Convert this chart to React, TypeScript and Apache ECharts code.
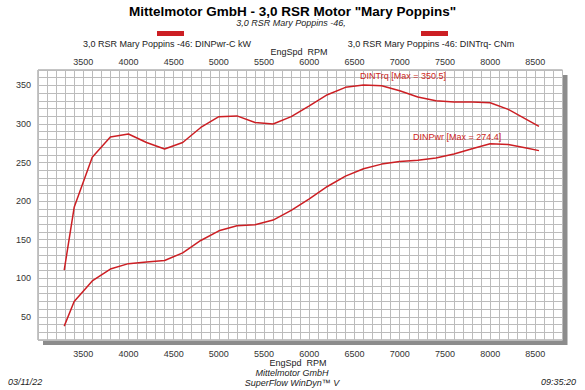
import React, { useEffect, useRef } from "react";
import * as echarts from "echarts";

const rpm = [3290, 3400, 3600, 3800, 4000, 4200, 4400, 4600, 4800, 5000, 5200, 5400, 5600, 5800, 6000, 6200, 6400, 6600, 6800, 7000, 7200, 7400, 7600, 7800, 8000, 8200, 8400, 8540];
const torque = [110.5, 192, 257, 283, 287, 276, 267.5, 276, 295.5, 309.5, 310.5, 302, 300, 309.5, 323.5, 338, 347.5, 350.5, 349.5, 343, 335, 330, 328.5, 328.5, 327.5, 319, 306, 297];
const power = [38, 70, 96.5, 112, 119, 121, 123, 133, 149, 161.5, 168, 169.5, 175.5, 188, 203, 219, 232.5, 242, 248, 251.5, 253, 256, 261, 268, 274.4, 273.5, 269, 265.5];
const xTickLabels = [3500, 4000, 4500, 5000, 5500, 6000, 6500, 7000, 7500, 8000, 8500];
const yTickLabels = [50, 100, 150, 200, 250, 300, 350];

const RED = "#cc1f24";
const FONT = "Liberation Sans, Arial, sans-serif";

export default function App() {
  const ref = useRef<HTMLDivElement>(null);
  useEffect(() => {
    if (!ref.current) return;
    const chart = echarts.init(ref.current, null, { renderer: "svg" });
    const xFmt = (v: number) => (xTickLabels.includes(v) ? String(v) : "");
    const yFmt = (v: number) => (yTickLabels.includes(v) ? String(v) : "");
    const gridLine = { show: true, lineStyle: { color: "#bcbcbc", width: 1 } };
    const txt = (x: number, y: number, text: string, font: string, fill: string, align: string) => ({
      type: "text", x, y, z: 100,
      style: { text, font: `${font} ${FONT}`, fill, align, verticalAlign: "middle" },
    });
    chart.setOption({
      animation: false,
      textStyle: { fontFamily: FONT },
      grid: {
        left: 38, top: 70, right: 22.5, bottom: 50,
        show: true, borderColor: "#8a8a8a", borderWidth: 1, backgroundColor: "#fff",
      },
      xAxis: [
        {
          type: "value", min: 3000, max: 8800, interval: 100, position: "bottom",
          axisLine: { show: false }, axisTick: { show: false },
          splitLine: gridLine,
          axisLabel: { formatter: xFmt, color: "#333", fontSize: 9, margin: 9 },
        },
        {
          type: "value", min: 3000, max: 8800, interval: 100, position: "top",
          axisLine: { show: false }, axisTick: { show: false },
          splitLine: { show: false },
          axisLabel: { formatter: xFmt, color: "#333", fontSize: 9, margin: 4 },
        },
      ],
      yAxis: {
        type: "value", min: 20, max: 370, interval: 10,
        axisLine: { show: false }, axisTick: { show: false },
        splitLine: gridLine,
        axisLabel: { formatter: yFmt, color: "#333", fontSize: 9, margin: 7 },
      },
      series: [
        {
          name: "DINTrq", type: "line", xAxisIndex: 0, symbol: "none",
          data: rpm.map((r, i) => [r, torque[i]]),
          lineStyle: { color: RED, width: 1.5 },
        },
        {
          name: "DINPwr", type: "line", xAxisIndex: 0, symbol: "none",
          data: rpm.map((r, i) => [r, power[i]]),
          lineStyle: { color: RED, width: 1.5 },
        },
      ],
      graphic: [
        { type: "rect", shape: { x: 43, y: 340, width: 524, height: 5 }, style: { fill: "#8c8c8c" } },
        { type: "rect", shape: { x: 562.5, y: 75, width: 5, height: 270 }, style: { fill: "#8c8c8c" } },
        txt(292.5, 11, 'Mittelmotor GmbH - 3,0 RSR Motor "Mary Poppins"', "bold 13.5px", "#000", "center"),
        txt(291, 22.5, "3,0 RSR Mary Poppins -46,", "italic 9px", "#222", "center"),
        { type: "rect", shape: { x: 157, y: 31, width: 27, height: 5 }, style: { fill: RED } },
        { type: "rect", shape: { x: 421, y: 31, width: 27, height: 5 }, style: { fill: RED } },
        txt(167, 44, "3,0 RSR Mary Poppins -46: DINPwr-C kW", "9px", "#222", "center"),
        txt(431, 44, "3,0 RSR Mary Poppins -46: DINTrq- CNm", "9px", "#222", "center"),
        txt(299, 51.5, "EngSpd  RPM", "9px", "#222", "center"),
        txt(298, 362.5, "EngSpd  RPM", "9px", "#222", "center"),
        txt(360, 76, "DINTrq [Max = 350.5]", "9px", RED, "left"),
        txt(413, 136.5, "DINPwr [Max = 274.4]", "9px", RED, "left"),
        txt(292, 373, "Mittelmotor GmbH", "italic 9px", "#222", "center"),
        txt(292, 383, "SuperFlow WinDyn\u2122 V", "italic 9px", "#222", "center"),
        txt(8, 382, "03/11/22", "italic 9px", "#222", "left"),
        txt(576, 382, "09:35:20", "italic 9px", "#222", "right"),
      ],
    });
    return () => chart.dispose();
  }, []);
  return (
    <div
      ref={ref}
      style={{ position: "fixed", left: 0, top: 0, width: 585, height: 390, background: "#fff" }}
    />
  );
}
